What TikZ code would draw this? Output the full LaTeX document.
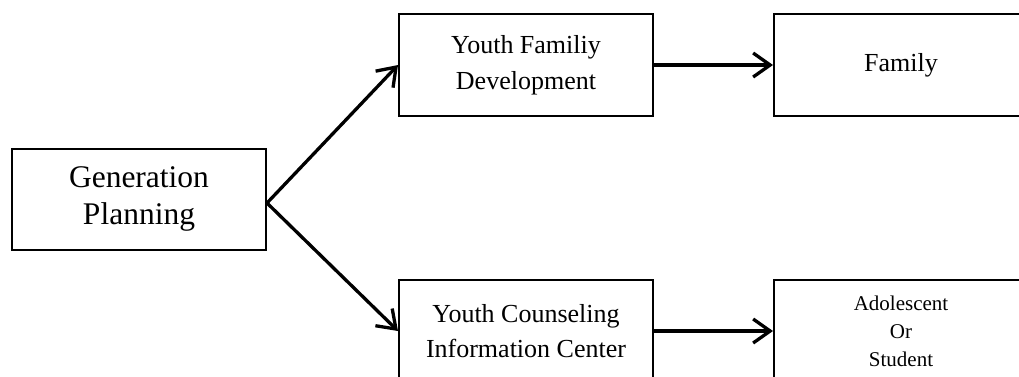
\documentclass[tikz,border=0pt]{standalone}
\usepackage{fontspec}
\setmainfont{Liberation Serif}
\usetikzlibrary{arrows.meta}
\begin{document}
\begin{tikzpicture}[x=1pt,y=-1pt,
  box/.style={draw=black,line width=2pt,inner sep=0pt,minimum width=254pt,minimum height=102pt,align=center,fill=white},
  conn/.style={line width=3.3pt,-{Straight Barb[length=17pt,width=24pt,line width=3.3pt]}}]
\useasboundingbox (0,0) rectangle (1019,376);
\clip (0,0) rectangle (1019,376);
\node[box,minimum height=101pt,font=\fontsize{31.5}{37}\selectfont] (gen) at (139,199) {\raisebox{-3pt}{Generation}\\\raisebox{-3pt}{Planning}};
\node[box,font=\fontsize{26}{36}\selectfont] (yfd) at (526,65) {Youth Familiy\\Development};
\node[box,font=\fontsize{26}{36}\selectfont] (fam) at (901,65) {Family};
\node[box,font=\fontsize{26}{35}\selectfont] (ycic) at (526,331) {Youth Counseling\\Information Center};
\node[box,font=\fontsize{21}{28}\selectfont] (ado) at (901,331) {Adolescent\\Or\\Student};
\draw[conn] ([yshift=-4pt]gen.east) -- (yfd.west);
\draw[conn] ([yshift=-4pt]gen.east) -- (ycic.west);
\draw[conn] (yfd.east) -- (fam.west);
\draw[conn] (ycic.east) -- (ado.west);
\end{tikzpicture}
\end{document}
